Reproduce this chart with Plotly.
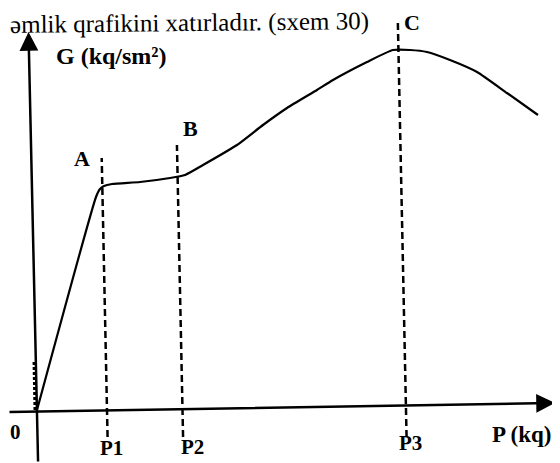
import plotly.graph_objects as go

# Curve G(P) (arbitrary units, origin at 0)
P_vals = [0, 59, 63, 67, 75, 103, 133, 148, 166, 200, 226, 250, 280, 296, 330, 356, 373, 390, 413, 440, 470, 501]
G_vals = [0, 213, 221, 224, 226, 228, 232, 235, 245, 265, 285, 302, 320, 330, 348, 360, 360, 358, 350, 338, 317, 295]

# Reference points
ref_names = ["P1", "P2", "P3"]
ref_P = [70, 145.5, 369]
ref_top = [252, 265, 388]
point_names = ["A", "B", "C"]
axis_names = ["G (kq/sm²)", "P (kq)", "0"]
page_text = "əmlik qrafikini xatırladır. (sxem 30)"

TILT = 0.021          # scan skew (x shift per unit of y)
Y_BOTTOM = -27        # bottom of dashed lines
W, H = 552, 455       # page body has an 8px margin
X0, Y0 = 37, 410      # reference-pixel position of the origin
XR = [8 - X0, 8 + W - X0]
YR = [Y0 - 8 - H, Y0 - 8]

SERIF = "Liberation Serif, Times New Roman, DejaVu Serif, serif"

fig = go.Figure()

fig.add_trace(go.Scatter(x=P_vals, y=G_vals, mode="lines",
                         line=dict(color="black", width=2.2, shape="spline", smoothing=0.5),
                         hoverinfo="skip", showlegend=False))

for name, p, top in zip(ref_names, ref_P, ref_top):
    xs = [p - TILT * Y_BOTTOM, p - TILT * top]
    fig.add_trace(go.Scatter(x=xs, y=[Y_BOTTOM, top], mode="lines",
                             line=dict(color="black", width=2.5, dash="7px,4px"),
                             hoverinfo="skip", showlegend=False))

fig.add_trace(go.Scatter(x=[-2, -3], y=[0, 50], mode="lines",
                         line=dict(color="black", width=3, dash="3px,2px"),
                         hoverinfo="skip", showlegend=False))

annotations = []
annotations.append(dict(x=-8.5, y=378, ax=1.1, ay=-53, xref="x", yref="y", axref="x", ayref="y",
                        showarrow=True, arrowhead=2, arrowsize=1.5, arrowwidth=2.5,
                        arrowcolor="black", text=""))
annotations.append(dict(x=518, y=7, ax=-29, ay=-2, xref="x", yref="y", axref="x", ayref="y",
                        showarrow=True, arrowhead=2, arrowsize=1.5, arrowwidth=2.5,
                        arrowcolor="black", text=""))

def lab(text, px, py, size=22, xanchor="center"):
    annotations.append(dict(x=px - X0, y=Y0 - py, xref="x", yref="y", text="<b>%s</b>" % text,
                            showarrow=False, xanchor=xanchor, yanchor="middle",
                            font=dict(family=SERIF, size=size, color="black")))

lab(axis_names[0], 54, 56, 24, "left")
lab(axis_names[1], 490, 434, 23, "left")
lab(axis_names[2], 15, 432, 21)
for name, (px, py) in zip(ref_names, [(111, 448), (192, 447), (410, 443)]):
    lab(name, px, py, 21)
for name, (px, py) in zip(point_names, [(82, 158), (190, 128), (412, 22)]):
    lab(name, px, py, 22)

annotations.append(dict(x=0, y=1 - (23 - 8) / H, xref="paper", yref="paper",
                        text=page_text, showarrow=False,
                        xanchor="left", yanchor="middle", textangle=-0.6,
                        font=dict(family=SERIF, size=25, color="black")))

fig.update_layout(width=W, height=H, margin=dict(l=0, r=0, t=0, b=0),
                  paper_bgcolor="white", plot_bgcolor="white",
                  xaxis=dict(range=XR, visible=False, fixedrange=True),
                  yaxis=dict(range=YR, visible=False, fixedrange=True),
                  annotations=annotations, showlegend=False)

fig.write_html("out.html")
